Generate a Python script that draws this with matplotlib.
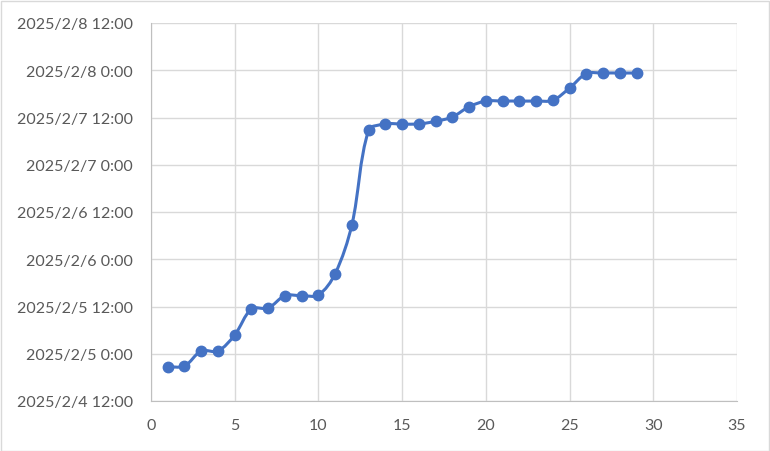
import matplotlib
matplotlib.use('Agg')
import matplotlib.pyplot as plt
import matplotlib.dates as mdates
from matplotlib.path import Path
from matplotlib.patches import PathPatch, Rectangle
from matplotlib.ticker import FuncFormatter, MultipleLocator
import numpy as np
import pandas as pd

# Data
x_values = list(range(1, 30))
times = [
    '2025-02-04 20:43', '2025-02-04 20:53', '2025-02-05 00:42', '2025-02-05 00:42',
    '2025-02-05 04:46', '2025-02-05 11:22', '2025-02-05 11:37', '2025-02-05 14:45',
    '2025-02-05 14:45', '2025-02-05 14:55', '2025-02-05 20:20', '2025-02-06 08:47',
    '2025-02-07 08:45', '2025-02-07 10:21', '2025-02-07 10:21', '2025-02-07 10:21',
    '2025-02-07 11:02', '2025-02-07 12:08', '2025-02-07 14:45', '2025-02-07 16:11',
    '2025-02-07 16:11', '2025-02-07 16:11', '2025-02-07 16:11', '2025-02-07 16:22',
    '2025-02-07 19:29', '2025-02-07 23:08', '2025-02-07 23:18', '2025-02-07 23:18',
    '2025-02-07 23:18',
]
y_min, y_max = '2025-02-04 12:00', '2025-02-08 12:00'

line_color = '#4472C4'
text_color = '#595959'
grid_color = '#D9D9D9'

plt.rcParams['font.family'] = ['Lato', 'DejaVu Sans']

x = np.array(x_values, dtype=float)
y = mdates.date2num(pd.to_datetime(times).to_pydatetime())

fig = plt.figure(figsize=(7.7, 4.52), dpi=100)
ax = fig.add_axes([151 / 770, 50 / 452, 586 / 770, 378 / 452])

ax.set_xlim(0, 35)
ymin = mdates.date2num(pd.Timestamp(y_min))
ymax = mdates.date2num(pd.Timestamp(y_max))
ax.set_ylim(ymin, ymax)

# Smoothed line like Excel: Bezier whose handles shrink next to short segments
# (worked out in pixel-like units so both axes weigh the same)
sx = 586 / 35
sy = 378 / (ymax - ymin)
pts = np.column_stack([x * sx, y * sy])
n = len(pts)
seg = np.linalg.norm(np.diff(pts, axis=0), axis=1)
verts = [pts[0]]
codes = [Path.MOVETO]
for i in range(n - 1):
    p0 = pts[max(i - 1, 0)]
    p1 = pts[i]
    p2 = pts[i + 1]
    p3 = pts[min(i + 2, n - 1)]
    d01 = seg[i - 1] if i > 0 else seg[i]
    d12 = seg[i]
    d23 = seg[i + 1] if i + 1 < n - 1 else seg[i]
    c1 = p1 + (p2 - p0) * d12 / (d01 + d12) / 3 if d01 + d12 > 0 else p1
    c2 = p2 - (p3 - p1) * d12 / (d12 + d23) / 3 if d12 + d23 > 0 else p2
    verts += [c1, c2, p2]
    codes += [Path.CURVE4] * 3
verts = np.array(verts) / np.array([sx, sy])
ax.add_patch(PathPatch(Path(verts, codes), facecolor='none', edgecolor=line_color,
                       linewidth=2.2, zorder=3))
ax.plot(x, y, linestyle='none', marker='o', markersize=7.5, color=line_color, zorder=4)

ax.xaxis.set_major_locator(MultipleLocator(5))
ax.yaxis.set_major_locator(MultipleLocator(0.5))


def fmt_date(v, pos):
    d = mdates.num2date(v)
    return f'{d.year}/{d.month}/{d.day} {d.hour}:{d.minute:02d}'


ax.yaxis.set_major_formatter(FuncFormatter(fmt_date))

ax.grid(True, color=grid_color, linewidth=1)
ax.set_axisbelow(True)
for side in ['top', 'right']:
    ax.spines[side].set_visible(False)
for side in ['left', 'bottom']:
    ax.spines[side].set_color('#BFBFBF')
ax.tick_params(length=0, labelsize=11.5, colors=text_color)
ax.tick_params(axis='y', pad=13)
ax.tick_params(axis='x', pad=12)

fig.patches.append(Rectangle((0.5 / 770, 0.5 / 452), 768 / 770, 450 / 452,
                             transform=fig.transFigure, fill=False,
                             edgecolor=grid_color, linewidth=1))

fig.savefig('out.png', dpi=100)
